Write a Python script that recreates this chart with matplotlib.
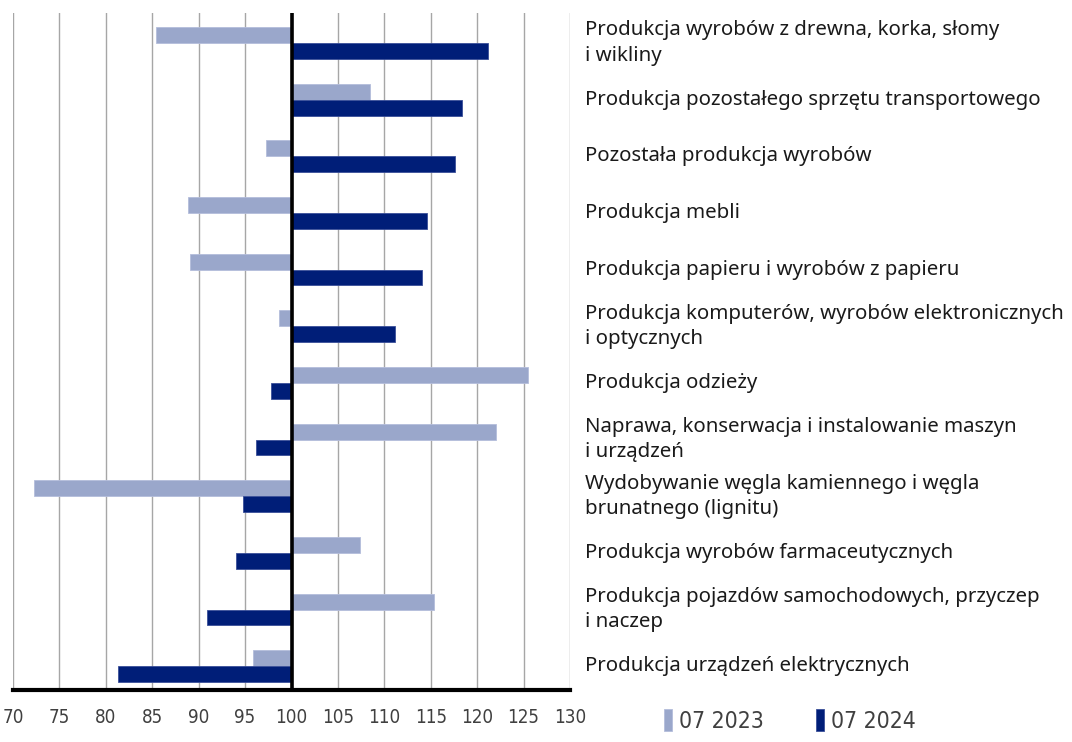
import matplotlib
matplotlib.use('Agg')
import matplotlib.pyplot as plt
import numpy as np

categories = [
    'Produkcja wyrobów z drewna, korka, słomy\ni wikliny',
    'Produkcja pozostałego sprzętu transportowego',
    'Pozostała produkcja wyrobów',
    'Produkcja mebli',
    'Produkcja papieru i wyrobów z papieru',
    'Produkcja komputerów, wyrobów elektronicznych\ni optycznych',
    'Produkcja odzieży',
    'Naprawa, konserwacja i instalowanie maszyn\ni urządzeń',
    'Wydobywanie węgla kamiennego i węgla\nbrunatnego (lignitu)',
    'Produkcja wyrobów farmaceutycznych',
    'Produkcja pojazdów samochodowych, przyczep\ni naczep',
    'Produkcja urządzeń elektrycznych',
]
jul_2023 = [85.4, 108.5, 97.3, 88.8, 89.1, 98.6, 125.5, 122.0, 72.3, 107.4, 115.3, 95.9]
jul_2024 = [121.2, 118.4, 117.6, 114.6, 114.1, 111.1, 97.8, 96.2, 94.8, 94.0, 90.9, 81.3]
series_labels = ['07 2023', '07 2024']
xticks = list(range(70, 131, 5))

light = '#9aa7cb'
dark = '#001e78'
base = 100

fig = plt.figure(figsize=(10.72, 7.42), dpi=100)
ax = fig.add_axes([13 / 1072, 1 - 690 / 742, 557 / 1072, 677 / 742])

y = np.arange(len(categories))
h = 0.28
ax.barh(y - h / 2, np.array(jul_2023) - base, left=base, height=h,
        color=light, edgecolor='#b4bddb', linewidth=0.6, label=series_labels[0], zorder=3)
ax.barh(y + h / 2, np.array(jul_2024) - base, left=base, height=h,
        color=dark, edgecolor='#3a4f99', linewidth=0.6, label=series_labels[1], zorder=3)

ax.set_xlim(70, 130)
ax.set_ylim(11.42, -0.53)
ax.set_xticks(xticks)
ax.set_yticks([])
ax.grid(axis='x', color='#a6a6a6', linewidth=1.0, zorder=0)
ax.axvline(base, color='black', linewidth=2.6, zorder=4)
for s in ['top', 'right', 'left']:
    ax.spines[s].set_visible(False)
ax.spines['bottom'].set_linewidth(3)
ax.spines['bottom'].set_zorder(5)
ax.tick_params(axis='x', length=0, pad=13, labelsize=13.5, labelcolor='#404040')
for lab in ax.get_xticklabels():
    lab.set_fontstretch('condensed')

for yi, cat in zip(y, categories):
    ax.text(1.027, yi, cat, transform=ax.get_yaxis_transform(), ha='left', va='center',
            fontsize=14.7, family='Noto Sans', color='#1a1a1a', linespacing=1.35)

leg = fig.legend(loc='lower left', bbox_to_anchor=(643 / 1072, -0.016), ncol=2,
                 frameon=False, handlelength=0.35, handleheight=1.1, handletextpad=0.3,
                 columnspacing=2.3, prop={'stretch': 'condensed', 'size': 16.5})
for t in leg.get_texts():
    t.set_color('#404040')

fig.savefig('out.png', dpi=100)
